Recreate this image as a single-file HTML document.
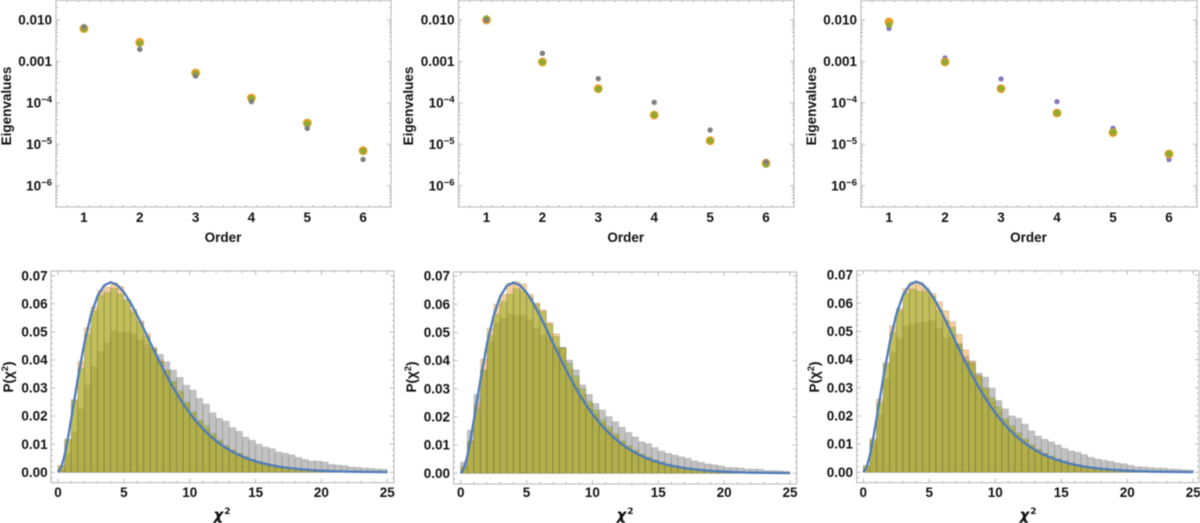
<!DOCTYPE html>
<html>
<head>
<meta charset="utf-8">
<style>
html,body{margin:0;padding:0;background:#fff;}
svg{display:block;filter:blur(0.4px);font-family:"Liberation Sans",sans-serif;font-weight:bold;fill:#111;}
</style>
</head>
<body>
<svg id="figure" width="1200" height="523" viewBox="0 0 1200 523" xmlns="http://www.w3.org/2000/svg"></svg>
<script>
// ---- scatter data ----
const orders = [1,2,3,4,5,6];
const eigenTicks = [-2,-3,-4,-5,-6];
const eigenTickLabels = ["0.010","0.001","10|−4","10|−5","10|−6"];
const orangeA = [0.00618,0.00289,0.000526,0.000131,0.0000327,0.0000070];
const greenA  = [0.00618,0.00272,0.000500,0.000125,0.0000312,0.0000069];
const smallA  = [0.0069,0.00196,0.000445,0.000107,0.0000243,0.0000043];
const orangeB = [0.0100,0.00097,0.000220,0.000051,0.0000122,0.0000035];
const greenB  = [0.0110,0.00097,0.000212,0.000051,0.0000122,0.0000032];
const smallB  = [0.0100,0.00157,0.000384,0.000103,0.0000221,0.00000374];
const orangeC = [0.00895,0.00097,0.000220,0.000057,0.0000191,0.00000583];
const greenC  = [0.00757,0.00097,0.000220,0.000057,0.0000198,0.00000583];
const smallC  = [0.0063,0.00121,0.000377,0.000107,0.0000243,0.0000043];

// ---- histogram data (bins of width 0.5 from 0 to 25) ----
const binWidth = 0.5;
const histTickX = [0,5,10,15,20,25];
const histTickY = ["0.00","0.01","0.02","0.03","0.04","0.05","0.06","0.07"];
const greyA = [.0010,.0065,.0143,.0225,.0310,.0375,.0430,.0460,.0505,.0498,.0497,.0492,.0470,.0455,.0440,.0420,.0394,.0364,.0338,.0310,.0293,.0263,.0243,.0212,.0192,.0182,.0159,.0146,.0125,.0114,.0100,.0090,.0084,.0072,.0068,.0062,.0053,.0046,.0040,.0040,.0037,.0028,.0026,.0024,.0019,.0018,.0015,.0014,.0012,.0011];
const peachA = [.0024,.0118,.0260,.0395,.0515,.0590,.0648,.0660,.0675,.0662,.0615,.0580,.0540,.0495,.0445,.0400,.0360,.0320,.0283,.0245,.0210,.0180,.0155,.0130,.0110,.0093,.0078,.0066,.0055,.0045,.0038,.0032,.0027,.0022,.0018,.0015,.0012,.0010,.0008,.0007,.0006,.0005,.0004,.0003,.0003,.0002,.0002,.0001,.0001,.0001];
const oliveA = [.0024,.0116,.0255,.0370,.0490,.0575,.0630,.0640,.0655,.0635,.0615,.0570,.0535,.0485,.0440,.0395,.0365,.0325,.0290,.0250,.0215,.0186,.0166,.0139,.0115,.0095,.0080,.0068,.0056,.0047,.0039,.0033,.0027,.0023,.0019,.0015,.0013,.0010,.0009,.0007,.0006,.0005,.0004,.0004,.0003,.0002,.0002,.0001,.0001,.0001];
const greyB = [.0040,.0153,.0280,.0367,.0467,.0532,.0550,.0565,.0560,.0560,.0545,.0515,.0490,.0480,.0450,.0447,.0402,.0367,.0313,.0280,.0248,.0225,.0201,.0183,.0163,.0145,.0129,.0112,.0105,.0091,.0079,.0071,.0065,.0058,.0053,.0044,.0039,.0033,.0030,.0026,.0021,.0020,.0019,.0015,.0015,.0014,.0010,.0010,.0009,.0007];
const peachB = [.0024,.0115,.0245,.0405,.0515,.0600,.0635,.0675,.0680,.0672,.0635,.0605,.0580,.0535,.0495,.0445,.0370,.0325,.0280,.0245,.0210,.0180,.0155,.0132,.0112,.0094,.0079,.0066,.0056,.0046,.0039,.0032,.0027,.0022,.0018,.0015,.0012,.0010,.0008,.0007,.0006,.0005,.0004,.0003,.0003,.0002,.0002,.0001,.0001,.0001];
const oliveB = [.0024,.0110,.0230,.0365,.0490,.0565,.0610,.0635,.0655,.0645,.0625,.0600,.0575,.0530,.0485,.0445,.0390,.0345,.0300,.0255,.0225,.0190,.0165,.0140,.0115,.0098,.0082,.0068,.0057,.0047,.0040,.0033,.0027,.0023,.0019,.0015,.0013,.0010,.0009,.0007,.0006,.0005,.0004,.0004,.0003,.0002,.0002,.0001,.0001,.0001];
const greyC = [.0015,.0105,.0205,.0332,.0425,.0475,.0518,.0524,.0530,.0533,.0538,.0512,.0477,.0480,.0457,.0412,.0394,.0352,.0338,.0299,.0255,.0225,.0200,.0192,.0171,.0147,.0129,.0117,.0108,.0097,.0085,.0076,.0071,.0063,.0053,.0047,.0043,.0039,.0033,.0030,.0025,.0020,.0019,.0017,.0015,.0015,.0012,.0011,.0009,.0008];
const peachC = [.0024,.0120,.0260,.0390,.0520,.0582,.0652,.0675,.0675,.0655,.0635,.0605,.0573,.0535,.0490,.0435,.0395,.0345,.0295,.0250,.0212,.0182,.0156,.0132,.0112,.0094,.0079,.0066,.0056,.0046,.0039,.0032,.0027,.0022,.0018,.0015,.0012,.0010,.0008,.0007,.0006,.0005,.0004,.0003,.0003,.0002,.0002,.0001,.0001,.0001];
const oliveC = [.0024,.0115,.0245,.0385,.0495,.0575,.0635,.0650,.0642,.0642,.0625,.0575,.0540,.0515,.0455,.0395,.0385,.0340,.0300,.0265,.0232,.0190,.0165,.0140,.0118,.0098,.0082,.0068,.0057,.0047,.0040,.0033,.0027,.0023,.0019,.0015,.0013,.0010,.0009,.0007,.0006,.0005,.0004,.0004,.0003,.0002,.0002,.0001,.0001,.0001];

// ---- reference curve ----
const curveX = [0,.25,.5,.75,1,1.5,2,2.5,3,3.5,4,4.5,5,5.5,6,6.5,7,7.5,8,8.5,9,9.5,10,10.5,11,11.5,12,12.5,13,13.5,14,14.5,15,15.5,16,16.5,17,17.5,18,18.5,19,19.5,20,21,22,23,24,25];
const curveY = [0,.00172,.00608,.01208,.01895,.03321,.04598,.05595,.06276,.06652,.06767,.06670,.06413,.06043,.05601,.05120,.04624,.04134,.03663,.03220,.02812,.02440,.02106,.01808,.01546,.01316,.01116,.00942,.00794,.00666,.00559,.00467,.00389,.00323,.00268,.00222,.00184,.00152,.00125,.00103,.00085,.00070,.00057,.00038,.00025,.00017,.00011,.00007];

const svg = document.getElementById('figure');
const NS = 'http://www.w3.org/2000/svg';
function mk(tag, attrs, parent) {
  const el = document.createElementNS(NS, tag);
  for (const k in attrs) el.setAttribute(k, attrs[k]);
  parent.appendChild(el);
  return el;
}
function tick(parent, x1, y1, x2, y2) {
  const el = mk('line', {x1, y1, x2, y2, stroke:'#a8a8a8', 'stroke-width':0.8}, parent);
  
  
}
function frame(parent, L, T, R, B) {
  const el = mk('rect', {x:L, y:T, width:R-L, height:B-T, fill:'none', stroke:'#bcbcbc', 'stroke-width':1.1}, parent);
  
  
}
function tickLabel(parent, x, y, anchor, str) {
  const el = mk('text', {x, y, 'text-anchor':anchor, 'font-size':13.5}, parent);
  
  
  const parts = str.split('|');
  el.textContent = parts[0];
  if (parts[1]) {
    const s = mk('tspan', {dy:-5, 'font-size':9.5}, el);
    s.textContent = parts[1];
  }
}

function drawScatter(L, R, labelX, ylabelX, orange, green, small, smallColor, smallFirst) {
  const T = 0.5, B = 207;
  const group = mk('g', {}, svg);
  
  
  const sx = v => L + (v - 0.5) * (R - L) / 6;
  const sy = v => 20 + (-2 - Math.log10(v)) * 41.43;
  const syLog = e => 20 + (-2 - e) * 41.43;
  frame(group, L, T, R, B);
  for (let i = 0; i <= 30; i++) {
    const v = 0.5 + i * 0.2;
    const major = Math.abs(v - Math.round(v)) < 1e-6;
    const len = major ? 4 : 2;
    tick(group, sx(v), B, sx(v), B - len);
    tick(group, sx(v), T, sx(v), T + len);
  }
  for (let e = -7; e <= -2; e++) {
    for (let m = 1; m <= 9; m++) {
      const y = syLog(e + Math.log10(m));
      if (y < T || y > B) continue;
      const len = m === 1 ? 4 : 2;
      tick(group, L, y, L + len, y);
      tick(group, R, y, R - len, y);
    }
  }
  eigenTicks.forEach((e, i) => tickLabel(group, labelX, syLog(e) + 4.6, 'end', eigenTickLabels[i]));
  orders.forEach(o => tickLabel(group, sx(o), 222, 'middle', String(o)));

  const xt = mk('text', {x:(L + R) / 2 - 0.5, y:242, 'text-anchor':'middle', 'font-size':13.5}, group);
  
  
  xt.textContent = 'Order';
  const yt = mk('text', {x:0, y:0, 'text-anchor':'middle', 'font-size':13.5, transform:`translate(${ylabelX},106) rotate(-90)`}, group);
  
  
  yt.textContent = 'Eigenvalues';

  const drawSmall = () => small.forEach((v, i) => {
    const c = mk('circle', {cx:sx(orders[i]), cy:sy(v), r:2.7, fill:smallColor}, group);
    
    
  });
  if (smallFirst) drawSmall();
  orange.forEach((v, i) => {
    const c = mk('circle', {cx:sx(orders[i]), cy:sy(v), r:4.4, fill:'#e59d22'}, group);
    
    
  });
  green.forEach((v, i) => {
    const c = mk('circle', {cx:sx(orders[i]), cy:sy(v), r:3.1, fill:'#8cac30'}, group);
    
    
  });
  if (!smallFirst) drawSmall();
}

function drawHist(L, T, R, B, x0, x25, y0, y07, labelX, ylabelX, xtitleX, grey, peach, olive) {
  const group = mk('g', {}, svg);
  
  
  const sx = v => x0 + v * (x25 - x0) / 25;
  const sy = v => y0 + v * (y07 - y0) / 0.07;
  frame(group, L, T, R, B);
  for (let v = 0; v <= 25; v++) {
    const len = v % 5 === 0 ? 4 : 2;
    tick(group, sx(v), B, sx(v), B - len);
    tick(group, sx(v), T, sx(v), T + len);
  }
  for (let i = -1; i <= 35; i++) {
    const v = i * 0.002;
    const y = sy(v);
    if (y < T || y > B) continue;
    const len = i % 5 === 0 ? 4 : 2;
    tick(group, L, y, L + len, y);
    tick(group, R, y, R - len, y);
  }
  const series = [
    {vals:grey, fill:'rgb(120,120,120)', op:0.45, name:'grey-bar'},
    {vals:peach, fill:'rgb(232,155,45)', op:0.48, name:'orange-bar'},
    {vals:olive, fill:'rgb(146,173,26)', op:0.5, name:'green-bar'}
  ];
  series.forEach(s => {
    s.vals.forEach((v, i) => {
      const bx = sx(i * binWidth), bw = sx((i + 1) * binWidth) - bx;
      const r = mk('rect', {x:bx, y:sy(v), width:bw, height:sy(0) - sy(v), fill:s.fill, 'fill-opacity':s.op, stroke:'rgb(70,70,70)', 'stroke-opacity':0.25, 'stroke-width':0.6}, group);
      
      
    });
  });
  const d = curveX.map((x, i) => (i ? 'L' : 'M') + sx(x).toFixed(2) + ' ' + sy(curveY[i]).toFixed(2)).join(' ');
  const curve = mk('path', {d, fill:'none', stroke:'#4f7cba', 'stroke-width':2.3, 'stroke-linejoin':'round'}, group);
  
  

  histTickX.forEach(v => tickLabel(group, sx(v), 497, 'middle', String(v)));
  histTickY.forEach(t => tickLabel(group, labelX, sy(parseFloat(t)) + 4.6, 'end', t));

  const xt = mk('text', {x:xtitleX, y:520, 'text-anchor':'middle', 'font-size':15, 'font-style':'italic', 'font-family':'"DejaVu Sans",sans-serif', 'font-weight':'bold'}, group);
  
  
  xt.textContent = 'χ';
  const xs = mk('tspan', {dy:-6, dx:1, 'font-size':9, 'font-style':'normal'}, xt);
  xs.textContent = '2';

  const yt = mk('text', {x:0, y:0, 'text-anchor':'middle', 'font-size':13.5, transform:`translate(${ylabelX},377) rotate(-90)`}, group);
  
  
  yt.textContent = 'P(χ';
  const ys = mk('tspan', {dy:-5, 'font-size':9.5}, yt);
  ys.textContent = '2';
  const ye = mk('tspan', {dy:5}, yt);
  ye.textContent = ')';
}

drawScatter(56, 391, 52, 11, orangeA, greenA, smallA, '#7f7f7f', false);
drawScatter(458.5, 794, 454.5, 413, orangeB, greenB, smallB, '#7f7f7f', false);
drawScatter(861, 1197, 857, 816, orangeC, greenC, smallC, '#8a78bd', true);
drawHist(51, 271, 394, 482.7, 58, 387.3, 472.3, 275.7, 47.7, 13, 222, greyA, peachA, oliveA);
drawHist(453.5, 272, 796.7, 484, 460.7, 790, 473.3, 276, 450, 416, 625, greyB, peachB, oliveB);
drawHist(856.7, 270.7, 1199, 482.7, 863.3, 1193.3, 472.3, 275, 853, 819, 1028, greyC, peachC, oliveC);
</script>
</body>
</html>
